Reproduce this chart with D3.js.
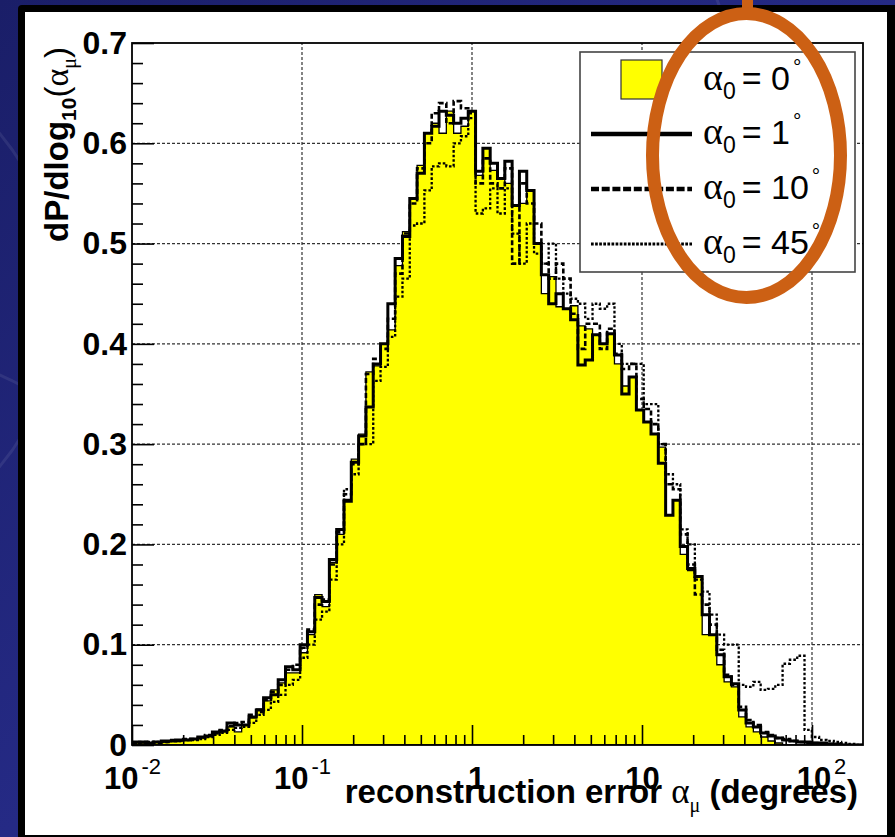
<!DOCTYPE html>
<html><head><meta charset="utf-8">
<script src="https://cdn.jsdelivr.net/npm/d3@7"></script>
<style>html,body{margin:0;padding:0;background:#1d2170;overflow:hidden}</style>
</head><body>
<svg id="c" width="895" height="837"></svg>
<script>
// ---------------- DATA ----------------
// histogram bins: 100 equal bins in log10(alpha) from -2 to 2.3
const binLogMin = -2, binLogMax = 2.3, nBins = 100;

// alpha0 = 0 deg (yellow filled)
const a0 = [
 0.003,0.002,0.002,0.003,0.003,0.004,0.004,0.005,0.006,0.007,
 0.009,0.011,0.013,0.018,0.013,0.020,0.027,0.036,0.044,0.055,
 0.062,0.072,0.072,0.092,0.110,0.150,0.138,0.182,0.210,0.245,
 0.285,0.310,0.372,0.378,0.400,0.414,0.478,0.512,0.545,0.578,
 0.610,0.620,0.610,0.632,0.610,0.617,0.632,0.568,0.595,0.573,
 0.565,0.560,0.538,0.540,0.553,0.500,0.450,0.467,0.437,0.435,
 0.438,0.418,0.415,0.409,0.400,0.410,0.380,0.358,0.367,0.334,
 0.322,0.310,0.297,0.229,0.244,0.190,0.174,0.168,0.110,0.110,
 0.080,0.063,0.058,0.028,0.018,0.013,0.008,0.004,0.002,0,
 0,0,0,0,0,0,0,0,0,0];
// alpha0 = 1 deg (solid)
const a1 = [
 0.003,0.003,0.002,0.003,0.004,0.004,0.005,0.005,0.006,0.008,
 0.009,0.013,0.014,0.022,0.020,0.020,0.028,0.035,0.047,0.050,
 0.065,0.078,0.075,0.100,0.113,0.147,0.143,0.185,0.215,0.243,
 0.282,0.308,0.337,0.380,0.400,0.440,0.485,0.507,0.545,0.570,
 0.610,0.617,0.632,0.628,0.620,0.625,0.632,0.572,0.595,0.580,
 0.565,0.582,0.538,0.572,0.553,0.500,0.469,0.440,0.450,0.435,
 0.424,0.379,0.384,0.409,0.400,0.410,0.389,0.350,0.367,0.334,
 0.322,0.310,0.281,0.229,0.244,0.198,0.176,0.168,0.130,0.110,
 0.090,0.068,0.061,0.035,0.022,0.018,0.012,0.009,0.007,0.005,
 0.004,0.003,0.003,0.002,0.002,0.001,0.001,0,0,0];
// alpha0 = 10 deg (dashed)
const a10 = [
 0.002,0.003,0.003,0.002,0.003,0.005,0.004,0.006,0.006,0.007,
 0.010,0.012,0.015,0.019,0.022,0.023,0.030,0.033,0.045,0.053,
 0.060,0.075,0.080,0.097,0.115,0.140,0.145,0.180,0.212,0.250,
 0.280,0.300,0.370,0.385,0.395,0.425,0.470,0.510,0.540,0.575,
 0.600,0.630,0.640,0.620,0.642,0.635,0.630,0.560,0.585,0.560,
 0.555,0.575,0.480,0.560,0.540,0.520,0.480,0.465,0.480,0.465,
 0.430,0.395,0.420,0.420,0.395,0.415,0.390,0.375,0.380,0.345,
 0.335,0.320,0.300,0.260,0.255,0.210,0.180,0.150,0.140,0.120,
 0.095,0.070,0.060,0.038,0.025,0.020,0.013,0.010,0.007,0.006,
 0.004,0.003,0.002,0.002,0.001,0.001,0,0,0,0];
// alpha0 = 45 deg (dotted)
const a45 = [
 0.002,0.002,0.003,0.003,0.003,0.004,0.004,0.005,0.005,0.006,
 0.008,0.010,0.012,0.015,0.017,0.018,0.022,0.030,0.035,0.043,
 0.050,0.060,0.065,0.087,0.100,0.125,0.133,0.165,0.200,0.255,
 0.270,0.300,0.300,0.363,0.377,0.407,0.447,0.465,0.518,0.520,
 0.553,0.577,0.580,0.577,0.600,0.607,0.625,0.530,0.535,0.555,
 0.530,0.555,0.510,0.480,0.520,0.490,0.480,0.500,0.465,0.450,
 0.445,0.440,0.425,0.440,0.435,0.440,0.400,0.380,0.380,0.380,
 0.340,0.340,0.300,0.270,0.260,0.215,0.200,0.165,0.153,0.130,
 0.110,0.100,0.100,0.060,0.058,0.063,0.055,0.056,0.060,0.081,
 0.085,0.089,0.015,0.008,0.005,0.004,0.003,0.002,0.001,0];

const yTicks = [0,0.1,0.2,0.3,0.4,0.5,0.6,0.7];
const yTickLabels = ["0","0.1","0.2","0.3","0.4","0.5","0.6","0.7"];
const xTicks = [0.01,0.1,1,10,100];
const xTickBase = ["10","10","1","10","10"];
const xTickExp = ["-2","-1","","","2"];
const legendDeg = ["0","1","10","45"];

// ---------------- DRAW ----------------
const svg = d3.select("#c");
const defs = svg.append("defs");
const bg = defs.append("linearGradient").attr("id","bg").attr("x1","0").attr("y1","0").attr("x2","1").attr("y2","1");
bg.append("stop").attr("offset","0").attr("stop-color","#1a1e68");
bg.append("stop").attr("offset","0.5").attr("stop-color","#252a85");
bg.append("stop").attr("offset","1").attr("stop-color","#1c2070");
svg.append("rect").attr("width",895).attr("height",837).attr("fill","url(#bg)");
[[-200,300,260],[-120,650,300],[1000,-100,300]].forEach(c=>{
  svg.append("circle").attr("cx",c[0]).attr("cy",c[1]).attr("r",c[2])
    .attr("fill","none").attr("stroke","rgba(255,255,255,0.08)").attr("stroke-width",3);
});

// panel
svg.append("rect").attr("x",18).attr("y",5).attr("width",880).attr("height",840).attr("rx",4).attr("fill","#000");
svg.append("rect").attr("x",25).attr("y",12).attr("width",862).attr("height",823).attr("fill","#fff");

const X0=132, X1=863, Y0=745, Y1=43;
const x = d3.scaleLog().domain([Math.pow(10,binLogMin), Math.pow(10,binLogMax)]).range([X0,X1]);
const y = d3.scaleLinear().domain([0,0.7]).range([Y0,Y1]);
const edges = d3.range(nBins+1).map(i => Math.pow(10, binLogMin + i*(binLogMax-binLogMin)/nBins));

// grid
const grid = svg.append("g").attr("stroke","#333").attr("stroke-width",1.2).attr("stroke-dasharray","3,2");
yTicks.filter(v=>v>0 && v<0.7).forEach(v=>{
  grid.append("line").attr("x1",X0).attr("x2",X1).attr("y1",y(v)).attr("y2",y(v));
});
xTicks.filter(v=>v>0.01).forEach(v=>{
  grid.append("line").attr("x1",x(v)).attr("x2",x(v)).attr("y1",Y0).attr("y2",Y1);
});

// histograms
const clip = defs.append("clipPath").attr("id","pc");
clip.append("rect").attr("x",X0).attr("y",Y1).attr("width",X1-X0).attr("height",Y0-Y1);
const hg = svg.append("g").attr("clip-path","url(#pc)");
function stepPts(vals){
  const p=[[x(edges[0]),y(0)]];
  vals.forEach((v,i)=>{p.push([x(edges[i]),y(v)]);p.push([x(edges[i+1]),y(v)]);});
  p.push([x(edges[nBins]),y(0)]);
  return p;
}
const line = d3.line();
hg.append("path").attr("d",line(stepPts(a0))+"Z").attr("fill","#ffff00").attr("stroke","#000").attr("stroke-width",1.3);
hg.append("path").attr("d",line(stepPts(a45))).attr("fill","none").attr("stroke","#000").attr("stroke-width",2.3).attr("stroke-dasharray","2.6,2");
hg.append("path").attr("d",line(stepPts(a10))).attr("fill","none").attr("stroke","#000").attr("stroke-width",2.6).attr("stroke-dasharray","5,2.5");
hg.append("path").attr("d",line(stepPts(a1))).attr("fill","none").attr("stroke","#000").attr("stroke-width",3);

// axes
const fontSans = "'Liberation Sans', Arial, Helvetica, sans-serif";
const fontSerif = "'Liberation Serif', 'Times New Roman', serif";
const yMinor = d3.range(0,0.7001,0.02).filter(v=>Math.abs(v*10-Math.round(v*10))>1e-6);
const gyMin = svg.append("g").attr("transform",`translate(${X0},0)`)
  .call(d3.axisLeft(y).tickValues(yMinor).tickSize(-11).tickFormat(""));
const gy = svg.append("g").attr("transform",`translate(${X0},0)`)
  .call(d3.axisLeft(y).tickValues(yTicks).tickSize(-22).tickPadding(5).tickFormat((d,i)=>yTickLabels[i]));
[gyMin,gy].forEach(g=>{g.select(".domain").remove();g.selectAll("line").attr("stroke","#000").attr("stroke-width",1.6);});
gy.selectAll("text").attr("font-family",fontSans).attr("font-weight","bold").attr("font-size",32).attr("fill","#000");

const xMinor = [];
for(let e=-2;e<=2;e++) for(let k=2;k<=9;k++){const v=k*Math.pow(10,e); if(v<=Math.pow(10,binLogMax)) xMinor.push(v);}
const gxMin = svg.append("g").attr("transform",`translate(0,${Y0})`)
  .call(d3.axisBottom(x).tickValues(xMinor).tickSize(-10).tickFormat(""));
const gx = svg.append("g").attr("transform",`translate(0,${Y0})`)
  .call(d3.axisBottom(x).tickValues(xTicks).tickSize(-20).tickPadding(24).tickFormat(""));
[gxMin,gx].forEach(g=>{g.select(".domain").remove();g.selectAll("line").attr("stroke","#000").attr("stroke-width",1.6);});
gx.selectAll(".tick").each(function(d,i){
  const t = d3.select(this).select("text");
  t.attr("font-family",fontSans).attr("font-weight","bold").attr("font-size",31).attr("fill","#000")
   .attr("dy",null).attr("y",44).attr("text-anchor","middle");
  t.append("tspan").text(xTickBase[i]);
  if(xTickExp[i]){
    t.append("tspan").attr("font-size",22).attr("font-weight","normal").attr("dy",-15).attr("dx",3).text(xTickExp[i]);
    if(xTickExp[i][0]!=="-") t.attr("dx",9);
  }
  if(xTickBase[i]==="1") t.attr("dx",4);
});

// frame
svg.append("rect").attr("x",X0).attr("y",Y1).attr("width",X1-X0).attr("height",Y0-Y1)
  .attr("fill","none").attr("stroke","#000").attr("stroke-width",1.8);

// axis titles
const yt = svg.append("text").attr("transform","translate(68,47) rotate(-90)").attr("text-anchor","end")
  .attr("font-family",fontSans).attr("font-weight","bold").attr("font-size",33).attr("fill","#000");
yt.append("tspan").text("dP/dlog");
yt.append("tspan").attr("font-size",21).attr("dy",8).text("10");
yt.append("tspan").attr("dy",-8).attr("font-weight","normal").text("(");
yt.append("tspan").attr("font-family",fontSerif).attr("font-weight","normal").attr("font-size",34).text("α");
yt.append("tspan").attr("font-family",fontSerif).attr("font-weight","normal").attr("font-size",20).attr("dy",8).text("μ");
yt.append("tspan").attr("dy",-8).attr("font-weight","normal").text(")");

const xt = svg.append("text").attr("x",858).attr("y",803).attr("text-anchor","end")
  .attr("font-family",fontSans).attr("font-weight","bold").attr("font-size",33).attr("fill","#000");
xt.append("tspan").text("reconstruction error ");
xt.append("tspan").attr("font-family",fontSerif).attr("font-weight","normal").attr("font-size",35).text("α");
xt.append("tspan").attr("font-family",fontSerif).attr("font-weight","normal").attr("font-size",20).attr("dy",9).text("μ");
xt.append("tspan").attr("dy",-9).text(" (degrees)");

// legend
const lg = svg.append("g");
lg.append("rect").attr("x",580).attr("y",52).attr("width",275).attr("height",220)
  .attr("fill","#fff").attr("stroke","#444").attr("stroke-width",1.6);
const rowY = [80,134,189,244];
lg.append("rect").attr("x",621).attr("y",60).attr("width",41).attr("height",39)
  .attr("fill","#ffff00").attr("stroke","#333").attr("stroke-width",1.2);
lg.append("line").attr("x1",591).attr("x2",692).attr("y1",rowY[1]).attr("y2",rowY[1]).attr("stroke","#000").attr("stroke-width",4.5);
lg.append("line").attr("x1",591).attr("x2",692).attr("y1",rowY[2]).attr("y2",rowY[2]).attr("stroke","#000").attr("stroke-width",4.5).attr("stroke-dasharray","8,2.7");
lg.append("line").attr("x1",591).attr("x2",692).attr("y1",rowY[3]).attr("y2",rowY[3]).attr("stroke","#000").attr("stroke-width",2.8).attr("stroke-dasharray","2.7,1.4");
legendDeg.forEach((d,i)=>{
  const t = lg.append("text").attr("x",703).attr("y",rowY[i]+10).attr("font-family",fontSans).attr("font-size",34).attr("fill","#000");
  t.append("tspan").attr("font-family",fontSerif).attr("font-size",38).text("α");
  t.append("tspan").attr("font-size",23).attr("dy",9).text("0");
  t.append("tspan").attr("dy",-9).attr("dx",6).text("= "+d);
  t.append("tspan").attr("font-size",21).attr("dy",-16).attr("dx",3).text("°");
});

// orange annotation
svg.append("line").attr("x1",747.5).attr("x2",747.5).attr("y1",0).attr("y2",16).attr("stroke","#cc6014").attr("stroke-width",11);
svg.append("ellipse").attr("cx",746.5).attr("cy",155.5).attr("rx",94).attr("ry",142)
  .attr("fill","none").attr("stroke","#cc6014").attr("stroke-width",13);
</script>
</body></html>
